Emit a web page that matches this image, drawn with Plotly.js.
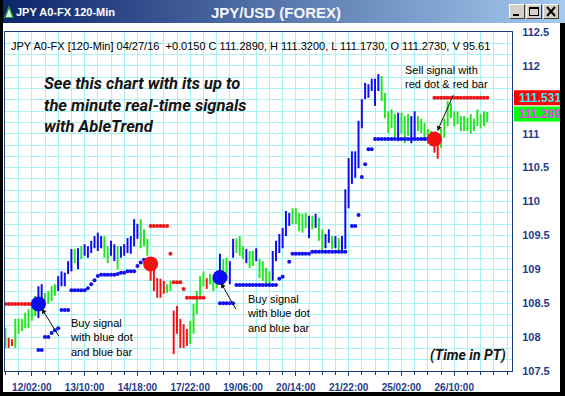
<!DOCTYPE html>
<html><head><meta charset="utf-8">
<script src="https://cdn.plot.ly/plotly-3.0.1.min.js"></script>
<style>
html,body{margin:0;padding:0;background:#fff;}
#win{position:relative;width:565px;height:396px;overflow:hidden;background:#fff;}
#tb{position:absolute;left:0;top:0;width:565px;height:23px;background:linear-gradient(to right,#0a246a 0%,#a6caf0 100%);}
#chart{position:absolute;left:0;top:0;width:565px;height:396px;}
.bd{position:absolute;background:#000;z-index:5;}
.btn{position:absolute;top:4px;width:14px;height:13px;background:#d4d0c8;border-top:1px solid #fff;border-left:1px solid #fff;border-right:1px solid #404040;border-bottom:1px solid #404040;z-index:6;}
.btn svg{position:absolute;left:0;top:0;}
#icon{position:absolute;left:3px;top:4px;z-index:6;}
</style></head>
<body>
<div id="win">
  <div id="tb"></div>
  <div id="chart"></div>
  <div class="bd" style="left:0;top:0;width:3px;height:396px;"></div>
  <div class="bd" style="right:0;top:23px;width:5px;height:373px;"></div>
  <div class="bd" style="left:0;bottom:0;width:565px;height:4px;"></div>
  <svg id="icon" width="12" height="15"><polygon points="6,1 11,14 1,14" fill="#2e9a2e"/><polygon points="6,5 9,13 3,13" fill="#e8ffe8"/></svg>
  <div class="btn" style="left:509px;"><svg width="14" height="13"><rect x="3" y="9" width="6" height="2" fill="#000"/></svg></div>
  <div class="btn" style="left:526px;"><svg width="14" height="13"><rect x="2.5" y="2.5" width="9" height="8" fill="none" stroke="#000" stroke-width="1"/><rect x="2" y="2" width="10" height="2" fill="#000"/></svg></div>
  <div class="btn" style="left:543px;"><svg width="14" height="13"><path d="M3,2 L11,11 M11,2 L3,11" stroke="#000" stroke-width="2"/></svg></div>
</div>
<script>
// ---- data ----
const tickBars = [8, 24, 40, 56, 72, 88, 104, 120, 136];
const tickLabels = ["12/02:00","13/10:00","14/18:00","17/22:00","19/06:00","20/14:00","21/22:00","25/02:00","26/10:00"];
const priceTicks = [107.5, 108, 108.5, 109, 109.5, 110, 110.5, 111, 112, 112.5];

const barHigh = [
108.13,107.99,107.97,108.27,108.27,108.27,108.36,108.41,108.49,108.61,
108.75,108.78,108.65,108.68,108.75,108.78,108.90,108.97,108.95,109.12,
109.30,109.30,109.31,109.34,109.37,109.34,109.42,109.49,109.54,109.49,
109.49,109.34,109.42,109.37,109.34,109.34,109.37,109.46,109.49,109.74,
109.67,109.74,109.59,109.45,109.17,109.05,108.87,108.86,108.83,108.78,
108.83,108.39,108.46,108.27,108.19,108.12,108.24,108.49,108.68,108.90,
108.97,108.87,108.93,108.87,108.87,109.23,109.15,109.17,109.12,109.45,
109.46,109.49,109.34,109.30,109.27,109.27,109.31,109.15,109.12,109.02,
108.97,109.27,109.42,109.52,109.61,109.86,109.83,109.90,109.90,109.83,
109.82,109.83,109.79,109.79,109.82,109.76,109.59,109.52,109.59,109.49,
109.49,109.46,109.49,110.18,110.64,110.74,110.74,111.19,111.51,111.75,
111.73,111.81,111.81,111.88,111.85,111.60,111.33,111.36,111.29,111.31,
111.31,111.26,111.29,111.26,111.33,111.26,111.22,111.16,111.07,111.04,
111.01,110.89,111.07,111.22,111.48,111.45,111.33,111.33,111.26,111.26,
111.23,111.29,111.22,111.36,111.29,111.33,111.32];

const barLow = [
107.84,107.84,107.87,107.84,108.05,108.09,108.13,108.13,108.24,108.31,
108.28,108.56,108.46,108.49,108.53,108.61,108.68,108.75,108.75,108.93,
108.97,109.09,109.00,109.15,109.20,109.17,109.24,109.31,109.27,109.31,
109.17,109.09,109.20,109.12,109.00,109.17,109.20,109.24,109.23,109.34,
109.45,109.31,109.34,109.20,108.83,108.68,108.58,108.58,108.64,108.65,
108.68,107.75,108.05,107.84,107.84,107.87,107.90,108.05,108.34,108.61,
108.75,108.71,108.78,108.68,108.72,108.87,108.93,108.83,108.78,109.17,
109.24,109.20,109.15,109.09,109.02,109.05,109.12,108.87,108.83,108.78,
108.78,108.83,109.12,109.24,109.31,109.49,109.64,109.67,109.67,109.56,
109.54,109.61,109.46,109.59,109.61,109.42,109.27,109.31,109.39,109.30,
109.31,109.27,109.27,109.30,109.90,110.26,110.35,110.49,111.08,111.51,
111.53,111.63,111.41,111.63,111.48,111.23,111.01,111.08,110.94,110.89,
111.00,110.86,110.97,110.86,110.94,111.04,111.01,110.89,110.85,110.89,
110.72,110.63,110.79,110.94,111.11,111.23,111.11,111.14,111.04,111.04,
111.04,111.00,111.04,111.11,111.08,111.11,111.17];

// B = blue (up trend), G = green (neutral), R = red (down trend)
const barTrend = (
"GRRGGGGGGG"+"BBGGGGBBBB"+"BGBGBBBBBB"+"GGBBGBBBBB"+"BGGGRRRRRG"+
"GRRRRRGGGG"+"GRGGGBGGBB"+"GGGBGGBGGG"+"GBBBBBBGGG"+"GGBGBGGBBG"+
"BGBBBBBBBB"+"BBBBGGGGGB"+"GGGBBGGGGG"+"RRGGGGGGGG"+"GGGGGGG").split("");

const n = null;
const blueStop = [
n,n,n,n,n,n,n,n,n,n,
107.81,107.81,108.00,108.00,108.06,108.10,108.13,108.40,108.40,108.40,
108.69,108.69,108.69,108.69,108.69,108.72,108.78,108.84,108.90,108.92,
108.92,108.92,108.92,108.92,108.93,108.95,108.95,108.97,108.97,108.97,
109.05,109.10,109.14,n,n,n,n,n,n,n,
n,n,n,n,n,n,n,n,n,n,
n,n,n,n,n,108.50,108.50,108.50,108.50,108.50,
108.77,108.77,108.77,108.77,108.77,108.77,108.77,108.77,108.77,108.77,
108.77,108.77,108.77,108.86,108.89,n,109.11,109.23,109.23,109.23,
109.23,109.23,109.23,109.26,109.26,109.26,109.26,109.26,109.26,109.26,
109.26,109.26,109.26,109.26,n,109.64,109.64,109.80,110.36,110.55,
110.77,110.77,110.92,110.92,110.92,110.92,110.92,110.92,110.92,110.92,
110.92,110.92,110.92,110.92,110.92,110.92,110.92,110.92,110.92,110.92,
n,n,n,n,n,n,n,n,n,n,
n,n,n,n,n,n,n];

const redStop = [
108.49,108.49,108.49,108.49,108.49,108.49,108.49,108.49,108.49,n,
n,n,n,n,n,n,n,n,n,n,
n,n,n,n,n,n,n,n,n,n,
n,n,n,n,n,n,n,n,n,n,
n,n,n,n,109.64,109.64,109.64,109.64,109.64,109.64,
109.23,108.81,108.81,108.81,108.71,108.58,108.58,108.58,108.58,108.58,
108.58,n,n,n,n,n,n,n,n,n,
n,n,n,n,n,n,n,n,n,n,
n,n,n,n,n,n,n,n,n,n,
n,n,n,n,n,n,n,n,n,n,
n,n,n,n,n,n,n,n,n,n,
n,n,n,n,n,n,n,n,n,n,
n,n,n,n,n,n,n,n,n,n,
111.53,111.53,111.53,111.53,111.53,111.53,111.53,111.53,111.53,111.53,
111.53,111.53,111.53,111.53,111.53,111.53,111.53];

const buyBar = [10, 65],  buyPrice = [108.49, 108.88];
const sellBar = [44, 130], sellPrice = [109.08, 110.92];
const lastClose = 111.289, stopLevel = 111.531;
const windowTitle = "JPY A0-FX 120-Min";
const chartTitle = "JPY/USD (FOREX)";
const headerText = "JPY A0-FX [120-Min] 04/27/16\u00a0 +0.0150 C 111.2890, H 111.3200, L 111.1730, O 111.2730, V 95.61";
const promoLines = ["See this chart with its up to","the minute real-time signals","with AbleTrend"];

// ---- geometry helpers (layout only) ----
const W = 565, H = 396, M = {l:5, r:53, t:32, b:25};
const PW = W - M.l - M.r, PH = H - M.t - M.b;
const px2paperX = px => (px - M.l) / PW;
const px2paperY = py => (H - M.b - py) / PH;
const Y0 = 107.5, Y1 = 112.5;
const price2paper = p => (p - Y0) / (Y1 - Y0);
const pxPerPrice = PH / (Y1 - Y0);

const colors = {B:'#0c0cf2', G:'#22e622', R:'#f41414'};
const idx = barHigh.map((_, i) => i);

const traces = [];
['G','B','R'].forEach(k => {
  const xs = [], base = [], len = [];
  idx.forEach(i => { if (barTrend[i] === k) { xs.push(i); base.push(barLow[i]); len.push(barHigh[i] - barLow[i]); } });
  traces.push({type:'bar', x:xs, y:len, base:base, width:0.6,
    marker:{color:colors[k], line:{width:0}}, hoverinfo:'skip'});
});
traces.push({type:'scatter', mode:'markers', x:idx, y:blueStop,
  marker:{color:'#1010f0', size:4}, hoverinfo:'skip'});
traces.push({type:'scatter', mode:'markers', x:idx, y:redStop,
  marker:{color:'#f01818', size:4}, hoverinfo:'skip'});
traces.push({type:'scatter', mode:'markers', x:buyBar, y:buyPrice,
  marker:{color:'#0a0af5', size:15}, hoverinfo:'skip'});
traces.push({type:'scatter', mode:'markers', x:sellBar, y:sellPrice,
  marker:{color:'#f41010', size:15}, hoverinfo:'skip'});

const gridC = '#aaf2f2', frameC = '#1c3d7e', labC = '#1f3c8c';
const boxHalf = 7.5 / pxPerPrice;

const ann = [];
ann.push({xref:'paper', yref:'paper', x:px2paperX(14), y:px2paperY(12), xanchor:'left', yanchor:'middle',
  text:windowTitle, showarrow:false, font:{family:'Arial', size:11, color:'#ffffff', weight:'bold'}});
ann.push({xref:'paper', yref:'paper', x:px2paperX(276), y:px2paperY(12), xanchor:'center', yanchor:'middle',
  text:chartTitle, showarrow:false, font:{family:'Arial', size:15, color:'#f4f6fb', weight:'bold'}});
ann.push({xref:'paper', yref:'paper', x:px2paperX(9), y:px2paperY(46), xanchor:'left', yanchor:'middle',
  text:headerText, showarrow:false, font:{family:'Arial', size:11, color:'#000000'}});
promoLines.forEach((t, k) => ann.push({xref:'paper', yref:'paper', x:px2paperX(42), y:px2paperY(83 + 22*k),
  xanchor:'left', yanchor:'middle', text:t, showarrow:false,
  font:{family:'Roboto', size:16.5, color:'#151515', weight:'bold', style:'italic'}}));
ann.push({xref:'paper', yref:'paper', x:px2paperX(508), y:px2paperY(355), xanchor:'right', yanchor:'middle',
  text:'(Time in PT)', showarrow:false, font:{family:'Roboto', size:14, color:'#151515', weight:'bold', style:'italic'}});
// callouts
const fnt = {family:'Arial', size:11, color:'#000'};
ann.push({x:19.0, y:108.33, xanchor:'left', yanchor:'top', align:'left', showarrow:false,
  text:'Buy signal<br>with blue dot<br>and blue bar', font:fnt});
ann.push({x:72.6, y:108.68, xanchor:'left', yanchor:'top', align:'left', showarrow:false,
  text:'Buy signal<br>with blue dot<br>and blue bar', font:fnt});
ann.push({x:120.5, y:112.06, xanchor:'left', yanchor:'top', align:'left', showarrow:false,
  text:'Sell signal with<br>red dot &amp; red bar', font:fnt});
const arrows = [[11.0,108.42,16.5,107.99],[65.3,108.80,70.1,108.39],[130.9,111.04,135.9,111.59]];
arrows.forEach(a => ann.push({x:a[0], y:a[1], ax:a[2], ay:a[3], axref:'x', ayref:'y', text:'',
  showarrow:true, arrowhead:2, arrowsize:1, arrowwidth:1, arrowcolor:'#111', standoff:0}));
// axis price boxes
ann.push({xref:'paper', yref:'y', x:px2paperX(517), y:stopLevel, xanchor:'left', yanchor:'middle',
  text:stopLevel.toFixed(3), showarrow:false, font:{family:'Arial', size:12, color:'#3ee8f0', weight:'bold'}});
ann.push({xref:'paper', yref:'y', x:px2paperX(517), y:lastClose, xanchor:'left', yanchor:'middle',
  text:lastClose.toFixed(3), showarrow:false, font:{family:'Arial', size:12, color:'#f03cf0', weight:'bold'}});

const shapes = [
  {type:'rect', xref:'paper', yref:'paper', x0:px2paperX(514), x1:px2paperX(562),
   y0:price2paper(stopLevel - boxHalf), y1:price2paper(stopLevel + boxHalf), fillcolor:'#ff0000', line:{width:0}, layer:'above'},
  {type:'rect', xref:'paper', yref:'paper', x0:px2paperX(514), x1:px2paperX(562),
   y0:price2paper(lastClose - boxHalf), y1:price2paper(lastClose + boxHalf), fillcolor:'#00ff00', line:{width:0}, layer:'above'}
];

const layout = {
  width:W, height:H, margin:M, paper_bgcolor:'rgba(0,0,0,0)', plot_bgcolor:'#ffffff',
  showlegend:false, barmode:'overlay', hovermode:false,
  xaxis:{range:[-0.12, 153.5], tickmode:'array', tickvals:tickBars, ticktext:tickLabels,
    ticks:'outside', ticklen:4, tickcolor:frameC, showgrid:true, gridcolor:gridC, gridwidth:1,
    minor:{tickmode:'linear', tick0:0, dtick:4, showgrid:true, gridcolor:gridC, ticks:'outside', ticklen:3, tickcolor:frameC},
    showline:true, mirror:true, linecolor:frameC, linewidth:1, zeroline:false,
    tickfont:{family:'Arial', size:10, color:labC, weight:'bold'}, ticklabelstandoff:3},
  yaxis:{range:[Y0, Y1], side:'right', tickmode:'array', tickvals:priceTicks, ticks:'',
    showgrid:true, gridcolor:gridC, gridwidth:1,
    minor:{tickmode:'linear', tick0:Y0, dtick:0.5/3, showgrid:true, gridcolor:gridC},
    showline:true, mirror:true, linecolor:frameC, linewidth:1, zeroline:false,
    tickfont:{family:'Arial', size:11, color:labC, weight:'bold'}, ticklabelstandoff:7},
  annotations:ann, shapes:shapes
};
Plotly.newPlot('chart', traces, layout, {staticPlot:true, displayModeBar:false});
</script>
</body></html>
